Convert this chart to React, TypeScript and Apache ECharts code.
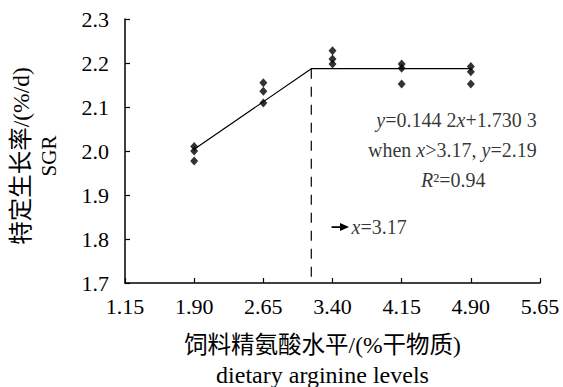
import React, { useEffect, useRef } from "react";
import * as echarts from "echarts";

const levels = [1.9, 2.65, 3.4, 4.15, 4.9];
const rep1 = [2.01, 2.155, 2.228, 2.198, 2.192];
const rep2 = [2.0, 2.136, 2.209, 2.188, 2.18];
const rep3 = [1.977, 2.109, 2.198, 2.152, 2.152];

const fitX = [1.9, 3.17, 4.9];
const fitY = [2.004, 2.187, 2.187];
const breakX = 3.17;

const xTicks = [1.15, 1.9, 2.65, 3.4, 4.15, 4.9, 5.65];

const FONT = "'Liberation Serif', 'Times New Roman', 'Noto Sans CJK SC', serif";

export default function App() {
  const ref = useRef<HTMLDivElement>(null);
  useEffect(() => {
    if (!ref.current) return;
    const chart = echarts.init(ref.current, undefined, { renderer: "svg" });
    const points: number[][] = [];
    levels.forEach((x, i) => {
      points.push([x, rep1[i]]);
      points.push([x, rep2[i]]);
      points.push([x, rep3[i]]);
    });
    const fit = fitX.map((x, i) => [x, fitY[i]]);
    const ts = (size: number, italic = false) => ({
      fontSize: size,
      fontFamily: FONT,
      fontStyle: italic ? "italic" : "normal",
      color: "#000",
      textBorderWidth: 0,
    });
    const annLabel = (align: string, formatter: string) => ({
      show: true,
      position: "inside",
      align,
      verticalAlign: "middle",
      color: "#000",
      textBorderWidth: 0,
      formatter,
    });
    chart.setOption({
      animation: false,
      grid: { left: 125, right: 23, top: 19, bottom: 104, outerBoundsMode: "none", containLabel: false },
      xAxis: {
        type: "value",
        min: 1.15,
        max: 5.65,
        axisLine: { show: true, lineStyle: { color: "#000", width: 1.5 } },
        axisTick: { show: true, inside: true, length: 5, customValues: xTicks, lineStyle: { color: "#000", width: 1.2 } },
        axisLabel: {
          customValues: xTicks,
          formatter: (v: number) => v.toFixed(2),
          fontSize: 22,
          fontFamily: FONT,
          color: "#000",
          margin: 12,
        },
        splitLine: { show: false },
        name: "{c|饲料精氨酸水平/(%干物质)}\n{e|dietary arginine levels}",
        nameLocation: "middle",
        nameGap: 46,
        nameTextStyle: {
          lineHeight: 31,
          padding: [0, 20, 0, 0],
          rich: {
            c: { ...ts(23.5), lineHeight: 31 },
            e: { ...ts(24), lineHeight: 29 },
          },
        },
      },
      yAxis: {
        type: "value",
        min: 1.7,
        max: 2.3,
        interval: 0.1,
        axisLine: { show: true, lineStyle: { color: "#000", width: 1.5 } },
        axisTick: { show: true, inside: true, length: 5, lineStyle: { color: "#000", width: 1.2 } },
        axisLabel: {
          formatter: (v: number) => v.toFixed(1),
          fontSize: 22,
          fontFamily: FONT,
          color: "#000",
          margin: 16,
        },
        splitLine: { show: false },
        name: "{c|特定生长率/(%/d)}\n{e|SGR}",
        nameLocation: "middle",
        nameRotate: 90,
        nameGap: 62,
        nameTextStyle: {
          lineHeight: 28,
          padding: [0, 10, 0, 0],
          rich: {
            c: { ...ts(23.5), lineHeight: 28 },
            e: { ...ts(21), lineHeight: 28 },
          },
        },
      },
      series: [
        {
          type: "line",
          data: fit,
          symbol: "none",
          lineStyle: { color: "#000", width: 1.2 },
          z: 2,
        },
        {
          type: "line",
          data: [
            [breakX, fitY[1]],
            [breakX, 1.7],
          ],
          symbol: "none",
          lineStyle: { color: "#000", width: 1.2, type: [10, 8] },
          z: 2,
        },
        {
          type: "scatter",
          data: points,
          symbol: "diamond",
          symbolSize: [8, 9],
          itemStyle: { color: "#000" },
          z: 3,
        },
        {
          type: "line",
          data: [
            { value: [3.39, 1.827], symbol: "none" },
            { value: [3.53, 1.827], symbol: "triangle", symbolSize: [8, 9], symbolRotate: -90 },
          ],
          lineStyle: { color: "#000", width: 1.8 },
          itemStyle: { color: "#000" },
          z: 3,
        },
        {
          type: "scatter",
          symbolSize: 0,
          silent: true,
          data: [
            { value: [5.614, 2.07], label: annLabel("right", "{i|y}{n|=0.144 2}{i|x}{n|+1.730 3}") },
            { value: [5.614, 2.003], label: annLabel("right", "{n|when }{i|x}{n|>3.17, }{i|y}{n|=2.19}") },
            { value: [4.71, 1.934], label: annLabel("center", "{i|R}{n|²=0.94}") },
            { value: [3.607, 1.827], label: annLabel("left", "{i|x}{n|=3.17}") },
          ],
          label: {
            show: true,
            color: "#000",
            textBorderWidth: 0,
            rich: {
              i: ts(20, true),
              n: ts(20),
            },
          },
        },
      ],
    });
    return () => chart.dispose();
  }, []);
  return (
    <div
      ref={ref}
      style={{ position: "absolute", left: 0, top: 0, width: 563, height: 387, background: "#fff" }}
    />
  );
}
